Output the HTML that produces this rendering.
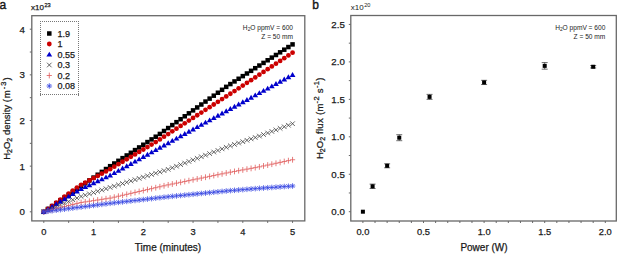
<!DOCTYPE html>
<html><head><meta charset="utf-8"><style>
html,body{margin:0;padding:0;background:#fff;width:617px;height:254px;overflow:hidden}
svg{display:block}
text{font-family:"Liberation Sans",sans-serif}
</style></head><body>
<svg width="617" height="254" viewBox="0 0 617 254">
<rect width="617" height="254" fill="#fff"/>
<rect x="31.8" y="15.7" width="273.0" height="205.20000000000002" fill="none" stroke="#686868" stroke-width="1.3"/>
<line x1="43.80" y1="220.9" x2="43.80" y2="222.9" stroke="#686868" stroke-width="1"/>
<line x1="68.67" y1="220.9" x2="68.67" y2="222.9" stroke="#686868" stroke-width="1"/>
<line x1="93.55" y1="220.9" x2="93.55" y2="222.9" stroke="#686868" stroke-width="1"/>
<line x1="118.42" y1="220.9" x2="118.42" y2="222.9" stroke="#686868" stroke-width="1"/>
<line x1="143.30" y1="220.9" x2="143.30" y2="222.9" stroke="#686868" stroke-width="1"/>
<line x1="168.18" y1="220.9" x2="168.18" y2="222.9" stroke="#686868" stroke-width="1"/>
<line x1="193.05" y1="220.9" x2="193.05" y2="222.9" stroke="#686868" stroke-width="1"/>
<line x1="217.93" y1="220.9" x2="217.93" y2="222.9" stroke="#686868" stroke-width="1"/>
<line x1="242.80" y1="220.9" x2="242.80" y2="222.9" stroke="#686868" stroke-width="1"/>
<line x1="267.68" y1="220.9" x2="267.68" y2="222.9" stroke="#686868" stroke-width="1"/>
<line x1="292.55" y1="220.9" x2="292.55" y2="222.9" stroke="#686868" stroke-width="1"/>
<text x="43.80" y="235.0" font-size="9.3" text-anchor="middle" fill="#1a1a1a" font-family="Liberation Sans, sans-serif" stroke="#1a1a1a" stroke-width="0.25">0</text>
<text x="93.55" y="235.0" font-size="9.3" text-anchor="middle" fill="#1a1a1a" font-family="Liberation Sans, sans-serif" stroke="#1a1a1a" stroke-width="0.25">1</text>
<text x="143.30" y="235.0" font-size="9.3" text-anchor="middle" fill="#1a1a1a" font-family="Liberation Sans, sans-serif" stroke="#1a1a1a" stroke-width="0.25">2</text>
<text x="193.05" y="235.0" font-size="9.3" text-anchor="middle" fill="#1a1a1a" font-family="Liberation Sans, sans-serif" stroke="#1a1a1a" stroke-width="0.25">3</text>
<text x="242.80" y="235.0" font-size="9.3" text-anchor="middle" fill="#1a1a1a" font-family="Liberation Sans, sans-serif" stroke="#1a1a1a" stroke-width="0.25">4</text>
<text x="292.55" y="235.0" font-size="9.3" text-anchor="middle" fill="#1a1a1a" font-family="Liberation Sans, sans-serif" stroke="#1a1a1a" stroke-width="0.25">5</text>
<line x1="29.8" y1="211.80" x2="31.8" y2="211.80" stroke="#686868" stroke-width="1"/>
<line x1="29.8" y1="188.98" x2="31.8" y2="188.98" stroke="#686868" stroke-width="1"/>
<line x1="29.8" y1="166.15" x2="31.8" y2="166.15" stroke="#686868" stroke-width="1"/>
<line x1="29.8" y1="143.33" x2="31.8" y2="143.33" stroke="#686868" stroke-width="1"/>
<line x1="29.8" y1="120.50" x2="31.8" y2="120.50" stroke="#686868" stroke-width="1"/>
<line x1="29.8" y1="97.68" x2="31.8" y2="97.68" stroke="#686868" stroke-width="1"/>
<line x1="29.8" y1="74.85" x2="31.8" y2="74.85" stroke="#686868" stroke-width="1"/>
<line x1="29.8" y1="52.03" x2="31.8" y2="52.03" stroke="#686868" stroke-width="1"/>
<line x1="29.8" y1="29.20" x2="31.8" y2="29.20" stroke="#686868" stroke-width="1"/>
<text x="25" y="215.30" font-size="9.7" text-anchor="end" fill="#1a1a1a" font-family="Liberation Sans, sans-serif" stroke="#1a1a1a" stroke-width="0.25">0</text>
<text x="25" y="169.65" font-size="9.7" text-anchor="end" fill="#1a1a1a" font-family="Liberation Sans, sans-serif" stroke="#1a1a1a" stroke-width="0.25">1</text>
<text x="25" y="124.00" font-size="9.7" text-anchor="end" fill="#1a1a1a" font-family="Liberation Sans, sans-serif" stroke="#1a1a1a" stroke-width="0.25">2</text>
<text x="25" y="78.35" font-size="9.7" text-anchor="end" fill="#1a1a1a" font-family="Liberation Sans, sans-serif" stroke="#1a1a1a" stroke-width="0.25">3</text>
<text x="25" y="32.70" font-size="9.7" text-anchor="end" fill="#1a1a1a" font-family="Liberation Sans, sans-serif" stroke="#1a1a1a" stroke-width="0.25">4</text>
<text x="-0.6" y="8.8" font-size="12" fill="#1a1a1a" font-family="Liberation Sans, sans-serif" stroke="#111" stroke-width="0.4">a</text>
<text x="31" y="10" font-size="8" fill="#1a1a1a" font-family="Liberation Sans, sans-serif" stroke="#1a1a1a" stroke-width="0.25">x10<tspan font-size="5.6" dy="-3.3" dx="0.5">23</tspan></text>
<text x="168" y="250.7" font-size="10" text-anchor="middle" fill="#1a1a1a" font-family="Liberation Sans, sans-serif" stroke="#1a1a1a" stroke-width="0.25">Time (minutes)</text>
<text transform="translate(10.4,159.8) rotate(-90)" font-size="9.5" fill="#1a1a1a" font-family="Liberation Sans, sans-serif" stroke="#1a1a1a" stroke-width="0.25">H<tspan font-size="7" dy="1.8">2</tspan><tspan dy="-1.8">O</tspan><tspan font-size="7" dy="1.8">2</tspan><tspan dy="-1.8"> density </tspan><tspan letter-spacing="1.0">(m</tspan><tspan font-size="7.5" dy="-4.2" letter-spacing="1.0">-3</tspan><tspan dy="4.2">)</tspan></text>
<text x="293" y="29.7" font-size="6.6" text-anchor="end" fill="#1a1a1a" font-family="Liberation Sans, sans-serif">H<tspan font-size="4.8" dy="1.5">2</tspan><tspan dy="-1.5">O ppmV = 600</tspan></text>
<text x="293" y="38.9" font-size="6.6" text-anchor="end" fill="#1a1a1a" font-family="Liberation Sans, sans-serif">Z = 50 mm</text>
<rect x="41.55" y="209.55" width="4.5" height="4.5" fill="#000000"/>
<rect x="45.70" y="206.70" width="4.5" height="4.5" fill="#000000"/>
<rect x="49.84" y="203.85" width="4.5" height="4.5" fill="#000000"/>
<rect x="53.99" y="200.99" width="4.5" height="4.5" fill="#000000"/>
<rect x="58.13" y="198.14" width="4.5" height="4.5" fill="#000000"/>
<rect x="62.28" y="195.29" width="4.5" height="4.5" fill="#000000"/>
<rect x="66.42" y="192.44" width="4.5" height="4.5" fill="#000000"/>
<rect x="70.57" y="189.59" width="4.5" height="4.5" fill="#000000"/>
<rect x="74.72" y="186.74" width="4.5" height="4.5" fill="#000000"/>
<rect x="78.86" y="183.88" width="4.5" height="4.5" fill="#000000"/>
<rect x="83.01" y="181.03" width="4.5" height="4.5" fill="#000000"/>
<rect x="87.15" y="178.18" width="4.5" height="4.5" fill="#000000"/>
<rect x="91.30" y="175.33" width="4.5" height="4.5" fill="#000000"/>
<rect x="95.45" y="172.48" width="4.5" height="4.5" fill="#000000"/>
<rect x="99.59" y="169.63" width="4.5" height="4.5" fill="#000000"/>
<rect x="103.74" y="166.77" width="4.5" height="4.5" fill="#000000"/>
<rect x="107.88" y="163.92" width="4.5" height="4.5" fill="#000000"/>
<rect x="112.03" y="161.24" width="4.5" height="4.5" fill="#000000"/>
<rect x="116.17" y="158.57" width="4.5" height="4.5" fill="#000000"/>
<rect x="120.32" y="155.89" width="4.5" height="4.5" fill="#000000"/>
<rect x="124.47" y="153.21" width="4.5" height="4.5" fill="#000000"/>
<rect x="128.61" y="150.53" width="4.5" height="4.5" fill="#000000"/>
<rect x="132.76" y="147.85" width="4.5" height="4.5" fill="#000000"/>
<rect x="136.90" y="145.18" width="4.5" height="4.5" fill="#000000"/>
<rect x="141.05" y="142.50" width="4.5" height="4.5" fill="#000000"/>
<rect x="145.20" y="139.82" width="4.5" height="4.5" fill="#000000"/>
<rect x="149.34" y="137.14" width="4.5" height="4.5" fill="#000000"/>
<rect x="153.49" y="134.46" width="4.5" height="4.5" fill="#000000"/>
<rect x="157.63" y="131.68" width="4.5" height="4.5" fill="#000000"/>
<rect x="161.78" y="128.74" width="4.5" height="4.5" fill="#000000"/>
<rect x="165.93" y="125.80" width="4.5" height="4.5" fill="#000000"/>
<rect x="170.07" y="122.85" width="4.5" height="4.5" fill="#000000"/>
<rect x="174.22" y="119.91" width="4.5" height="4.5" fill="#000000"/>
<rect x="178.36" y="116.97" width="4.5" height="4.5" fill="#000000"/>
<rect x="182.51" y="114.03" width="4.5" height="4.5" fill="#000000"/>
<rect x="186.65" y="111.09" width="4.5" height="4.5" fill="#000000"/>
<rect x="190.80" y="108.14" width="4.5" height="4.5" fill="#000000"/>
<rect x="194.95" y="105.20" width="4.5" height="4.5" fill="#000000"/>
<rect x="199.09" y="102.26" width="4.5" height="4.5" fill="#000000"/>
<rect x="203.24" y="99.32" width="4.5" height="4.5" fill="#000000"/>
<rect x="207.38" y="96.37" width="4.5" height="4.5" fill="#000000"/>
<rect x="211.53" y="93.43" width="4.5" height="4.5" fill="#000000"/>
<rect x="215.68" y="90.49" width="4.5" height="4.5" fill="#000000"/>
<rect x="219.82" y="87.55" width="4.5" height="4.5" fill="#000000"/>
<rect x="223.97" y="84.60" width="4.5" height="4.5" fill="#000000"/>
<rect x="228.11" y="81.81" width="4.5" height="4.5" fill="#000000"/>
<rect x="232.26" y="79.17" width="4.5" height="4.5" fill="#000000"/>
<rect x="236.40" y="76.52" width="4.5" height="4.5" fill="#000000"/>
<rect x="240.55" y="73.88" width="4.5" height="4.5" fill="#000000"/>
<rect x="244.70" y="71.24" width="4.5" height="4.5" fill="#000000"/>
<rect x="248.84" y="68.59" width="4.5" height="4.5" fill="#000000"/>
<rect x="252.99" y="65.95" width="4.5" height="4.5" fill="#000000"/>
<rect x="257.13" y="63.30" width="4.5" height="4.5" fill="#000000"/>
<rect x="261.28" y="60.66" width="4.5" height="4.5" fill="#000000"/>
<rect x="265.43" y="58.02" width="4.5" height="4.5" fill="#000000"/>
<rect x="269.57" y="55.37" width="4.5" height="4.5" fill="#000000"/>
<rect x="273.72" y="52.73" width="4.5" height="4.5" fill="#000000"/>
<rect x="277.86" y="50.08" width="4.5" height="4.5" fill="#000000"/>
<rect x="282.01" y="47.44" width="4.5" height="4.5" fill="#000000"/>
<rect x="286.15" y="44.80" width="4.5" height="4.5" fill="#000000"/>
<rect x="290.30" y="42.15" width="4.5" height="4.5" fill="#000000"/>
<circle cx="43.80" cy="211.80" r="2.4" fill="#cc0000"/>
<circle cx="47.95" cy="208.79" r="2.4" fill="#cc0000"/>
<circle cx="52.09" cy="205.78" r="2.4" fill="#cc0000"/>
<circle cx="56.24" cy="202.76" r="2.4" fill="#cc0000"/>
<circle cx="60.38" cy="199.75" r="2.4" fill="#cc0000"/>
<circle cx="64.53" cy="196.74" r="2.4" fill="#cc0000"/>
<circle cx="68.67" cy="193.73" r="2.4" fill="#cc0000"/>
<circle cx="72.82" cy="190.72" r="2.4" fill="#cc0000"/>
<circle cx="76.97" cy="187.70" r="2.4" fill="#cc0000"/>
<circle cx="81.11" cy="184.87" r="2.4" fill="#cc0000"/>
<circle cx="85.26" cy="182.63" r="2.4" fill="#cc0000"/>
<circle cx="89.40" cy="180.38" r="2.4" fill="#cc0000"/>
<circle cx="93.55" cy="178.13" r="2.4" fill="#cc0000"/>
<circle cx="97.70" cy="175.88" r="2.4" fill="#cc0000"/>
<circle cx="101.84" cy="173.63" r="2.4" fill="#cc0000"/>
<circle cx="105.99" cy="171.38" r="2.4" fill="#cc0000"/>
<circle cx="110.13" cy="169.14" r="2.4" fill="#cc0000"/>
<circle cx="114.28" cy="166.68" r="2.4" fill="#cc0000"/>
<circle cx="118.42" cy="164.22" r="2.4" fill="#cc0000"/>
<circle cx="122.57" cy="161.77" r="2.4" fill="#cc0000"/>
<circle cx="126.72" cy="159.31" r="2.4" fill="#cc0000"/>
<circle cx="130.86" cy="156.86" r="2.4" fill="#cc0000"/>
<circle cx="135.01" cy="154.40" r="2.4" fill="#cc0000"/>
<circle cx="139.15" cy="151.94" r="2.4" fill="#cc0000"/>
<circle cx="143.30" cy="149.49" r="2.4" fill="#cc0000"/>
<circle cx="147.45" cy="147.03" r="2.4" fill="#cc0000"/>
<circle cx="151.59" cy="144.57" r="2.4" fill="#cc0000"/>
<circle cx="155.74" cy="142.09" r="2.4" fill="#cc0000"/>
<circle cx="159.88" cy="139.40" r="2.4" fill="#cc0000"/>
<circle cx="164.03" cy="136.72" r="2.4" fill="#cc0000"/>
<circle cx="168.18" cy="134.03" r="2.4" fill="#cc0000"/>
<circle cx="172.32" cy="131.35" r="2.4" fill="#cc0000"/>
<circle cx="176.47" cy="128.66" r="2.4" fill="#cc0000"/>
<circle cx="180.61" cy="125.97" r="2.4" fill="#cc0000"/>
<circle cx="184.76" cy="123.29" r="2.4" fill="#cc0000"/>
<circle cx="188.90" cy="120.60" r="2.4" fill="#cc0000"/>
<circle cx="193.05" cy="117.91" r="2.4" fill="#cc0000"/>
<circle cx="197.20" cy="115.23" r="2.4" fill="#cc0000"/>
<circle cx="201.34" cy="112.54" r="2.4" fill="#cc0000"/>
<circle cx="205.49" cy="109.86" r="2.4" fill="#cc0000"/>
<circle cx="209.63" cy="107.17" r="2.4" fill="#cc0000"/>
<circle cx="213.78" cy="104.48" r="2.4" fill="#cc0000"/>
<circle cx="217.93" cy="101.80" r="2.4" fill="#cc0000"/>
<circle cx="222.07" cy="99.11" r="2.4" fill="#cc0000"/>
<circle cx="226.22" cy="96.43" r="2.4" fill="#cc0000"/>
<circle cx="230.36" cy="93.74" r="2.4" fill="#cc0000"/>
<circle cx="234.51" cy="91.05" r="2.4" fill="#cc0000"/>
<circle cx="238.65" cy="88.35" r="2.4" fill="#cc0000"/>
<circle cx="242.80" cy="85.61" r="2.4" fill="#cc0000"/>
<circle cx="246.95" cy="82.87" r="2.4" fill="#cc0000"/>
<circle cx="251.09" cy="80.13" r="2.4" fill="#cc0000"/>
<circle cx="255.24" cy="77.39" r="2.4" fill="#cc0000"/>
<circle cx="259.38" cy="74.64" r="2.4" fill="#cc0000"/>
<circle cx="263.53" cy="71.90" r="2.4" fill="#cc0000"/>
<circle cx="267.68" cy="69.16" r="2.4" fill="#cc0000"/>
<circle cx="271.82" cy="66.42" r="2.4" fill="#cc0000"/>
<circle cx="275.97" cy="63.68" r="2.4" fill="#cc0000"/>
<circle cx="280.11" cy="60.94" r="2.4" fill="#cc0000"/>
<circle cx="284.26" cy="58.19" r="2.4" fill="#cc0000"/>
<circle cx="288.40" cy="55.45" r="2.4" fill="#cc0000"/>
<circle cx="292.55" cy="52.71" r="2.4" fill="#cc0000"/>
<path d="M43.80 209.00L46.70 213.90L40.90 213.90Z" fill="#0000cc"/>
<path d="M47.95 206.45L50.85 211.35L45.05 211.35Z" fill="#0000cc"/>
<path d="M52.09 203.89L54.99 208.79L49.19 208.79Z" fill="#0000cc"/>
<path d="M56.24 201.34L59.14 206.24L53.34 206.24Z" fill="#0000cc"/>
<path d="M60.38 198.79L63.28 203.69L57.48 203.69Z" fill="#0000cc"/>
<path d="M64.53 196.23L67.43 201.13L61.63 201.13Z" fill="#0000cc"/>
<path d="M68.67 193.68L71.58 198.58L65.77 198.58Z" fill="#0000cc"/>
<path d="M72.82 191.13L75.72 196.03L69.92 196.03Z" fill="#0000cc"/>
<path d="M76.97 188.57L79.87 193.47L74.07 193.47Z" fill="#0000cc"/>
<path d="M81.11 186.16L84.01 191.06L78.21 191.06Z" fill="#0000cc"/>
<path d="M85.26 184.21L88.16 189.11L82.36 189.11Z" fill="#0000cc"/>
<path d="M89.40 182.26L92.30 187.16L86.50 187.16Z" fill="#0000cc"/>
<path d="M93.55 180.31L96.45 185.21L90.65 185.21Z" fill="#0000cc"/>
<path d="M97.70 178.35L100.60 183.25L94.80 183.25Z" fill="#0000cc"/>
<path d="M101.84 176.40L104.74 181.30L98.94 181.30Z" fill="#0000cc"/>
<path d="M105.99 174.45L108.89 179.35L103.09 179.35Z" fill="#0000cc"/>
<path d="M110.13 172.50L113.03 177.40L107.23 177.40Z" fill="#0000cc"/>
<path d="M114.28 170.20L117.18 175.10L111.38 175.10Z" fill="#0000cc"/>
<path d="M118.42 167.89L121.33 172.79L115.52 172.79Z" fill="#0000cc"/>
<path d="M122.57 165.59L125.47 170.49L119.67 170.49Z" fill="#0000cc"/>
<path d="M126.72 163.29L129.62 168.19L123.82 168.19Z" fill="#0000cc"/>
<path d="M130.86 160.99L133.76 165.89L127.96 165.89Z" fill="#0000cc"/>
<path d="M135.01 158.68L137.91 163.58L132.11 163.58Z" fill="#0000cc"/>
<path d="M139.15 156.38L142.05 161.28L136.25 161.28Z" fill="#0000cc"/>
<path d="M143.30 154.08L146.20 158.98L140.40 158.98Z" fill="#0000cc"/>
<path d="M147.45 151.77L150.35 156.67L144.55 156.67Z" fill="#0000cc"/>
<path d="M151.59 149.47L154.49 154.37L148.69 154.37Z" fill="#0000cc"/>
<path d="M155.74 147.17L158.64 152.07L152.84 152.07Z" fill="#0000cc"/>
<path d="M159.88 144.87L162.78 149.77L156.98 149.77Z" fill="#0000cc"/>
<path d="M164.03 142.56L166.93 147.46L161.13 147.46Z" fill="#0000cc"/>
<path d="M168.18 140.26L171.08 145.16L165.28 145.16Z" fill="#0000cc"/>
<path d="M172.32 137.96L175.22 142.86L169.42 142.86Z" fill="#0000cc"/>
<path d="M176.47 135.66L179.37 140.56L173.57 140.56Z" fill="#0000cc"/>
<path d="M180.61 133.35L183.51 138.25L177.71 138.25Z" fill="#0000cc"/>
<path d="M184.76 131.05L187.66 135.95L181.86 135.95Z" fill="#0000cc"/>
<path d="M188.90 128.75L191.80 133.65L186.00 133.65Z" fill="#0000cc"/>
<path d="M193.05 126.48L195.95 131.38L190.15 131.38Z" fill="#0000cc"/>
<path d="M197.20 124.21L200.10 129.11L194.30 129.11Z" fill="#0000cc"/>
<path d="M201.34 121.94L204.24 126.84L198.44 126.84Z" fill="#0000cc"/>
<path d="M205.49 119.68L208.39 124.58L202.59 124.58Z" fill="#0000cc"/>
<path d="M209.63 117.41L212.53 122.31L206.73 122.31Z" fill="#0000cc"/>
<path d="M213.78 115.14L216.68 120.04L210.88 120.04Z" fill="#0000cc"/>
<path d="M217.93 112.87L220.83 117.77L215.03 117.77Z" fill="#0000cc"/>
<path d="M222.07 110.60L224.97 115.50L219.17 115.50Z" fill="#0000cc"/>
<path d="M226.22 108.34L229.12 113.24L223.32 113.24Z" fill="#0000cc"/>
<path d="M230.36 106.07L233.26 110.97L227.46 110.97Z" fill="#0000cc"/>
<path d="M234.51 103.80L237.41 108.70L231.61 108.70Z" fill="#0000cc"/>
<path d="M238.65 101.53L241.55 106.43L235.75 106.43Z" fill="#0000cc"/>
<path d="M242.80 99.26L245.70 104.16L239.90 104.16Z" fill="#0000cc"/>
<path d="M246.95 97.00L249.85 101.90L244.05 101.90Z" fill="#0000cc"/>
<path d="M251.09 94.73L253.99 99.63L248.19 99.63Z" fill="#0000cc"/>
<path d="M255.24 92.46L258.14 97.36L252.34 97.36Z" fill="#0000cc"/>
<path d="M259.38 90.19L262.28 95.09L256.48 95.09Z" fill="#0000cc"/>
<path d="M263.53 87.93L266.43 92.83L260.63 92.83Z" fill="#0000cc"/>
<path d="M267.68 85.66L270.57 90.56L264.78 90.56Z" fill="#0000cc"/>
<path d="M271.82 83.39L274.72 88.29L268.92 88.29Z" fill="#0000cc"/>
<path d="M275.97 81.12L278.87 86.02L273.07 86.02Z" fill="#0000cc"/>
<path d="M280.11 78.85L283.01 83.75L277.21 83.75Z" fill="#0000cc"/>
<path d="M284.26 76.59L287.16 81.49L281.36 81.49Z" fill="#0000cc"/>
<path d="M288.40 74.32L291.30 79.22L285.50 79.22Z" fill="#0000cc"/>
<path d="M292.55 72.05L295.45 76.95L289.65 76.95Z" fill="#0000cc"/>
<path d="M41.50 209.50L46.10 214.10M46.10 209.50L41.50 214.10" stroke="#333333" stroke-width="0.75" fill="none"/>
<path d="M45.65 207.78L50.25 212.38M50.25 207.78L45.65 212.38" stroke="#333333" stroke-width="0.75" fill="none"/>
<path d="M49.79 206.06L54.39 210.66M54.39 206.06L49.79 210.66" stroke="#333333" stroke-width="0.75" fill="none"/>
<path d="M53.94 204.34L58.54 208.94M58.54 204.34L53.94 208.94" stroke="#333333" stroke-width="0.75" fill="none"/>
<path d="M58.08 202.62L62.68 207.22M62.68 202.62L58.08 207.22" stroke="#333333" stroke-width="0.75" fill="none"/>
<path d="M62.23 200.90L66.83 205.50M66.83 200.90L62.23 205.50" stroke="#333333" stroke-width="0.75" fill="none"/>
<path d="M66.38 199.18L70.97 203.78M70.97 199.18L66.38 203.78" stroke="#333333" stroke-width="0.75" fill="none"/>
<path d="M70.52 197.46L75.12 202.06M75.12 197.46L70.52 202.06" stroke="#333333" stroke-width="0.75" fill="none"/>
<path d="M74.67 195.74L79.27 200.34M79.27 195.74L74.67 200.34" stroke="#333333" stroke-width="0.75" fill="none"/>
<path d="M78.81 194.13L83.41 198.73M83.41 194.13L78.81 198.73" stroke="#333333" stroke-width="0.75" fill="none"/>
<path d="M82.96 192.84L87.56 197.44M87.56 192.84L82.96 197.44" stroke="#333333" stroke-width="0.75" fill="none"/>
<path d="M87.10 191.56L91.70 196.16M91.70 191.56L87.10 196.16" stroke="#333333" stroke-width="0.75" fill="none"/>
<path d="M91.25 190.27L95.85 194.87M95.85 190.27L91.25 194.87" stroke="#333333" stroke-width="0.75" fill="none"/>
<path d="M95.40 188.99L100.00 193.59M100.00 188.99L95.40 193.59" stroke="#333333" stroke-width="0.75" fill="none"/>
<path d="M99.54 187.70L104.14 192.30M104.14 187.70L99.54 192.30" stroke="#333333" stroke-width="0.75" fill="none"/>
<path d="M103.69 186.42L108.29 191.02M108.29 186.42L103.69 191.02" stroke="#333333" stroke-width="0.75" fill="none"/>
<path d="M107.83 185.13L112.43 189.73M112.43 185.13L107.83 189.73" stroke="#333333" stroke-width="0.75" fill="none"/>
<path d="M111.98 183.84L116.58 188.44M116.58 183.84L111.98 188.44" stroke="#333333" stroke-width="0.75" fill="none"/>
<path d="M116.12 182.55L120.72 187.15M120.72 182.55L116.12 187.15" stroke="#333333" stroke-width="0.75" fill="none"/>
<path d="M120.27 181.26L124.87 185.86M124.87 181.26L120.27 185.86" stroke="#333333" stroke-width="0.75" fill="none"/>
<path d="M124.42 179.97L129.02 184.57M129.02 179.97L124.42 184.57" stroke="#333333" stroke-width="0.75" fill="none"/>
<path d="M128.56 178.67L133.16 183.27M133.16 178.67L128.56 183.27" stroke="#333333" stroke-width="0.75" fill="none"/>
<path d="M132.71 177.38L137.31 181.98M137.31 177.38L132.71 181.98" stroke="#333333" stroke-width="0.75" fill="none"/>
<path d="M136.85 176.09L141.45 180.69M141.45 176.09L136.85 180.69" stroke="#333333" stroke-width="0.75" fill="none"/>
<path d="M141.00 174.80L145.60 179.40M145.60 174.80L141.00 179.40" stroke="#333333" stroke-width="0.75" fill="none"/>
<path d="M145.15 173.51L149.75 178.11M149.75 173.51L145.15 178.11" stroke="#333333" stroke-width="0.75" fill="none"/>
<path d="M149.29 172.21L153.89 176.81M153.89 172.21L149.29 176.81" stroke="#333333" stroke-width="0.75" fill="none"/>
<path d="M153.44 170.92L158.04 175.52M158.04 170.92L153.44 175.52" stroke="#333333" stroke-width="0.75" fill="none"/>
<path d="M157.58 169.63L162.18 174.23M162.18 169.63L157.58 174.23" stroke="#333333" stroke-width="0.75" fill="none"/>
<path d="M161.73 168.34L166.33 172.94M166.33 168.34L161.73 172.94" stroke="#333333" stroke-width="0.75" fill="none"/>
<path d="M165.88 167.05L170.48 171.65M170.48 167.05L165.88 171.65" stroke="#333333" stroke-width="0.75" fill="none"/>
<path d="M170.02 165.47L174.62 170.07M174.62 165.47L170.02 170.07" stroke="#333333" stroke-width="0.75" fill="none"/>
<path d="M174.17 163.90L178.77 168.50M178.77 163.90L174.17 168.50" stroke="#333333" stroke-width="0.75" fill="none"/>
<path d="M178.31 162.32L182.91 166.92M182.91 162.32L178.31 166.92" stroke="#333333" stroke-width="0.75" fill="none"/>
<path d="M182.46 160.75L187.06 165.35M187.06 160.75L182.46 165.35" stroke="#333333" stroke-width="0.75" fill="none"/>
<path d="M186.60 159.17L191.20 163.77M191.20 159.17L186.60 163.77" stroke="#333333" stroke-width="0.75" fill="none"/>
<path d="M190.75 157.60L195.35 162.20M195.35 157.60L190.75 162.20" stroke="#333333" stroke-width="0.75" fill="none"/>
<path d="M194.90 156.02L199.50 160.62M199.50 156.02L194.90 160.62" stroke="#333333" stroke-width="0.75" fill="none"/>
<path d="M199.04 154.45L203.64 159.05M203.64 154.45L199.04 159.05" stroke="#333333" stroke-width="0.75" fill="none"/>
<path d="M203.19 152.87L207.79 157.47M207.79 152.87L203.19 157.47" stroke="#333333" stroke-width="0.75" fill="none"/>
<path d="M207.33 151.30L211.93 155.90M211.93 151.30L207.33 155.90" stroke="#333333" stroke-width="0.75" fill="none"/>
<path d="M211.48 149.73L216.08 154.33M216.08 149.73L211.48 154.33" stroke="#333333" stroke-width="0.75" fill="none"/>
<path d="M215.62 148.15L220.23 152.75M220.23 148.15L215.62 152.75" stroke="#333333" stroke-width="0.75" fill="none"/>
<path d="M219.77 146.58L224.37 151.18M224.37 146.58L219.77 151.18" stroke="#333333" stroke-width="0.75" fill="none"/>
<path d="M223.92 145.00L228.52 149.60M228.52 145.00L223.92 149.60" stroke="#333333" stroke-width="0.75" fill="none"/>
<path d="M228.06 143.52L232.66 148.12M232.66 143.52L228.06 148.12" stroke="#333333" stroke-width="0.75" fill="none"/>
<path d="M232.21 142.14L236.81 146.74M236.81 142.14L232.21 146.74" stroke="#333333" stroke-width="0.75" fill="none"/>
<path d="M236.35 140.75L240.95 145.35M240.95 140.75L236.35 145.35" stroke="#333333" stroke-width="0.75" fill="none"/>
<path d="M240.50 139.37L245.10 143.97M245.10 139.37L240.50 143.97" stroke="#333333" stroke-width="0.75" fill="none"/>
<path d="M244.65 137.98L249.25 142.58M249.25 137.98L244.65 142.58" stroke="#333333" stroke-width="0.75" fill="none"/>
<path d="M248.79 136.59L253.39 141.19M253.39 136.59L248.79 141.19" stroke="#333333" stroke-width="0.75" fill="none"/>
<path d="M252.94 135.21L257.54 139.81M257.54 135.21L252.94 139.81" stroke="#333333" stroke-width="0.75" fill="none"/>
<path d="M257.08 133.78L261.68 138.38M261.68 133.78L257.08 138.38" stroke="#333333" stroke-width="0.75" fill="none"/>
<path d="M261.23 132.23L265.83 136.83M265.83 132.23L261.23 136.83" stroke="#333333" stroke-width="0.75" fill="none"/>
<path d="M265.38 130.68L269.98 135.28M269.98 130.68L265.38 135.28" stroke="#333333" stroke-width="0.75" fill="none"/>
<path d="M269.52 129.14L274.12 133.74M274.12 129.14L269.52 133.74" stroke="#333333" stroke-width="0.75" fill="none"/>
<path d="M273.67 127.59L278.27 132.19M278.27 127.59L273.67 132.19" stroke="#333333" stroke-width="0.75" fill="none"/>
<path d="M277.81 126.04L282.41 130.64M282.41 126.04L277.81 130.64" stroke="#333333" stroke-width="0.75" fill="none"/>
<path d="M281.96 124.49L286.56 129.09M286.56 124.49L281.96 129.09" stroke="#333333" stroke-width="0.75" fill="none"/>
<path d="M286.10 122.94L290.70 127.54M290.70 122.94L286.10 127.54" stroke="#333333" stroke-width="0.75" fill="none"/>
<path d="M290.25 121.40L294.85 126.00M294.85 121.40L290.25 126.00" stroke="#333333" stroke-width="0.75" fill="none"/>
<path d="M41.20 211.80H46.40M43.80 208.90V214.70" stroke="#e05a5a" stroke-width="0.8" fill="none"/>
<path d="M45.35 210.76H50.55M47.95 207.86V213.66" stroke="#e05a5a" stroke-width="0.8" fill="none"/>
<path d="M49.49 209.72H54.69M52.09 206.82V212.62" stroke="#e05a5a" stroke-width="0.8" fill="none"/>
<path d="M53.64 208.67H58.84M56.24 205.77V211.57" stroke="#e05a5a" stroke-width="0.8" fill="none"/>
<path d="M57.78 207.63H62.98M60.38 204.73V210.53" stroke="#e05a5a" stroke-width="0.8" fill="none"/>
<path d="M61.93 206.59H67.13M64.53 203.69V209.49" stroke="#e05a5a" stroke-width="0.8" fill="none"/>
<path d="M66.08 205.55H71.27M68.67 202.65V208.45" stroke="#e05a5a" stroke-width="0.8" fill="none"/>
<path d="M70.22 204.50H75.42M72.82 201.60V207.40" stroke="#e05a5a" stroke-width="0.8" fill="none"/>
<path d="M74.37 203.46H79.57M76.97 200.56V206.36" stroke="#e05a5a" stroke-width="0.8" fill="none"/>
<path d="M78.51 202.52H83.71M81.11 199.62V205.42" stroke="#e05a5a" stroke-width="0.8" fill="none"/>
<path d="M82.66 201.89H87.86M85.26 198.99V204.79" stroke="#e05a5a" stroke-width="0.8" fill="none"/>
<path d="M86.80 201.26H92.00M89.40 198.36V204.16" stroke="#e05a5a" stroke-width="0.8" fill="none"/>
<path d="M90.95 200.63H96.15M93.55 197.73V203.53" stroke="#e05a5a" stroke-width="0.8" fill="none"/>
<path d="M95.10 200.00H100.30M97.70 197.10V202.90" stroke="#e05a5a" stroke-width="0.8" fill="none"/>
<path d="M99.24 199.37H104.44M101.84 196.47V202.27" stroke="#e05a5a" stroke-width="0.8" fill="none"/>
<path d="M103.39 198.74H108.59M105.99 195.84V201.64" stroke="#e05a5a" stroke-width="0.8" fill="none"/>
<path d="M107.53 198.11H112.73M110.13 195.21V201.01" stroke="#e05a5a" stroke-width="0.8" fill="none"/>
<path d="M111.68 197.17H116.88M114.28 194.27V200.07" stroke="#e05a5a" stroke-width="0.8" fill="none"/>
<path d="M115.83 196.22H121.02M118.42 193.32V199.12" stroke="#e05a5a" stroke-width="0.8" fill="none"/>
<path d="M119.97 195.27H125.17M122.57 192.37V198.17" stroke="#e05a5a" stroke-width="0.8" fill="none"/>
<path d="M124.12 194.33H129.32M126.72 191.43V197.23" stroke="#e05a5a" stroke-width="0.8" fill="none"/>
<path d="M128.26 193.38H133.46M130.86 190.48V196.28" stroke="#e05a5a" stroke-width="0.8" fill="none"/>
<path d="M132.41 192.44H137.61M135.01 189.54V195.34" stroke="#e05a5a" stroke-width="0.8" fill="none"/>
<path d="M136.55 191.49H141.75M139.15 188.59V194.39" stroke="#e05a5a" stroke-width="0.8" fill="none"/>
<path d="M140.70 190.54H145.90M143.30 187.64V193.44" stroke="#e05a5a" stroke-width="0.8" fill="none"/>
<path d="M144.85 189.60H150.05M147.45 186.70V192.50" stroke="#e05a5a" stroke-width="0.8" fill="none"/>
<path d="M148.99 188.65H154.19M151.59 185.75V191.55" stroke="#e05a5a" stroke-width="0.8" fill="none"/>
<path d="M153.14 187.70H158.34M155.74 184.80V190.60" stroke="#e05a5a" stroke-width="0.8" fill="none"/>
<path d="M157.28 186.76H162.48M159.88 183.86V189.66" stroke="#e05a5a" stroke-width="0.8" fill="none"/>
<path d="M161.43 185.81H166.63M164.03 182.91V188.71" stroke="#e05a5a" stroke-width="0.8" fill="none"/>
<path d="M165.58 184.87H170.78M168.18 181.97V187.77" stroke="#e05a5a" stroke-width="0.8" fill="none"/>
<path d="M169.72 184.02H174.92M172.32 181.12V186.92" stroke="#e05a5a" stroke-width="0.8" fill="none"/>
<path d="M173.87 183.17H179.07M176.47 180.27V186.07" stroke="#e05a5a" stroke-width="0.8" fill="none"/>
<path d="M178.01 182.33H183.21M180.61 179.43V185.23" stroke="#e05a5a" stroke-width="0.8" fill="none"/>
<path d="M182.16 181.48H187.36M184.76 178.58V184.38" stroke="#e05a5a" stroke-width="0.8" fill="none"/>
<path d="M186.30 180.63H191.50M188.90 177.73V183.53" stroke="#e05a5a" stroke-width="0.8" fill="none"/>
<path d="M190.45 179.78H195.65M193.05 176.88V182.68" stroke="#e05a5a" stroke-width="0.8" fill="none"/>
<path d="M194.60 178.94H199.80M197.20 176.04V181.84" stroke="#e05a5a" stroke-width="0.8" fill="none"/>
<path d="M198.74 178.09H203.94M201.34 175.19V180.99" stroke="#e05a5a" stroke-width="0.8" fill="none"/>
<path d="M202.89 177.24H208.09M205.49 174.34V180.14" stroke="#e05a5a" stroke-width="0.8" fill="none"/>
<path d="M207.03 176.40H212.23M209.63 173.50V179.30" stroke="#e05a5a" stroke-width="0.8" fill="none"/>
<path d="M211.18 175.55H216.38M213.78 172.65V178.45" stroke="#e05a5a" stroke-width="0.8" fill="none"/>
<path d="M215.33 174.70H220.53M217.93 171.80V177.60" stroke="#e05a5a" stroke-width="0.8" fill="none"/>
<path d="M219.47 173.85H224.67M222.07 170.95V176.75" stroke="#e05a5a" stroke-width="0.8" fill="none"/>
<path d="M223.62 173.01H228.82M226.22 170.11V175.91" stroke="#e05a5a" stroke-width="0.8" fill="none"/>
<path d="M227.76 172.20H232.96M230.36 169.30V175.10" stroke="#e05a5a" stroke-width="0.8" fill="none"/>
<path d="M231.91 171.44H237.11M234.51 168.54V174.34" stroke="#e05a5a" stroke-width="0.8" fill="none"/>
<path d="M236.05 170.68H241.25M238.65 167.78V173.58" stroke="#e05a5a" stroke-width="0.8" fill="none"/>
<path d="M240.20 169.92H245.40M242.80 167.02V172.82" stroke="#e05a5a" stroke-width="0.8" fill="none"/>
<path d="M244.35 169.15H249.55M246.95 166.25V172.05" stroke="#e05a5a" stroke-width="0.8" fill="none"/>
<path d="M248.49 168.39H253.69M251.09 165.49V171.29" stroke="#e05a5a" stroke-width="0.8" fill="none"/>
<path d="M252.64 167.63H257.84M255.24 164.73V170.53" stroke="#e05a5a" stroke-width="0.8" fill="none"/>
<path d="M256.78 166.84H261.98M259.38 163.94V169.74" stroke="#e05a5a" stroke-width="0.8" fill="none"/>
<path d="M260.93 165.95H266.13M263.53 163.05V168.85" stroke="#e05a5a" stroke-width="0.8" fill="none"/>
<path d="M265.07 165.07H270.28M267.68 162.17V167.97" stroke="#e05a5a" stroke-width="0.8" fill="none"/>
<path d="M269.22 164.18H274.42M271.82 161.28V167.08" stroke="#e05a5a" stroke-width="0.8" fill="none"/>
<path d="M273.37 163.30H278.57M275.97 160.40V166.20" stroke="#e05a5a" stroke-width="0.8" fill="none"/>
<path d="M277.51 162.41H282.71M280.11 159.51V165.31" stroke="#e05a5a" stroke-width="0.8" fill="none"/>
<path d="M281.66 161.53H286.86M284.26 158.63V164.43" stroke="#e05a5a" stroke-width="0.8" fill="none"/>
<path d="M285.80 160.64H291.00M288.40 157.74V163.54" stroke="#e05a5a" stroke-width="0.8" fill="none"/>
<path d="M289.95 159.76H295.15M292.55 156.86V162.66" stroke="#e05a5a" stroke-width="0.8" fill="none"/>
<path d="M41.00 211.80H46.60M43.80 209.00V214.60M41.80 209.80L45.80 213.80M45.80 209.80L41.80 213.80" stroke="#3040e0" stroke-width="0.75" fill="none"/>
<path d="M45.15 211.27H50.75M47.95 208.47V214.07M45.95 209.27L49.95 213.27M49.95 209.27L45.95 213.27" stroke="#3040e0" stroke-width="0.75" fill="none"/>
<path d="M49.29 210.74H54.89M52.09 207.94V213.54M50.09 208.74L54.09 212.74M54.09 208.74L50.09 212.74" stroke="#3040e0" stroke-width="0.75" fill="none"/>
<path d="M53.44 210.21H59.04M56.24 207.41V213.01M54.24 208.21L58.24 212.21M58.24 208.21L54.24 212.21" stroke="#3040e0" stroke-width="0.75" fill="none"/>
<path d="M57.58 209.68H63.18M60.38 206.88V212.48M58.38 207.68L62.38 211.68M62.38 207.68L58.38 211.68" stroke="#3040e0" stroke-width="0.75" fill="none"/>
<path d="M61.73 209.15H67.33M64.53 206.35V211.95M62.53 207.15L66.53 211.15M66.53 207.15L62.53 211.15" stroke="#3040e0" stroke-width="0.75" fill="none"/>
<path d="M65.88 208.62H71.47M68.67 205.82V211.42M66.67 206.62L70.67 210.62M70.67 206.62L66.67 210.62" stroke="#3040e0" stroke-width="0.75" fill="none"/>
<path d="M70.02 208.09H75.62M72.82 205.29V210.89M70.82 206.09L74.82 210.09M74.82 206.09L70.82 210.09" stroke="#3040e0" stroke-width="0.75" fill="none"/>
<path d="M74.17 207.56H79.77M76.97 204.76V210.36M74.97 205.56L78.97 209.56M78.97 205.56L74.97 209.56" stroke="#3040e0" stroke-width="0.75" fill="none"/>
<path d="M78.31 207.03H83.91M81.11 204.23V209.83M79.11 205.03L83.11 209.03M83.11 205.03L79.11 209.03" stroke="#3040e0" stroke-width="0.75" fill="none"/>
<path d="M82.46 206.50H88.06M85.26 203.70V209.30M83.26 204.50L87.26 208.50M87.26 204.50L83.26 208.50" stroke="#3040e0" stroke-width="0.75" fill="none"/>
<path d="M86.60 205.97H92.20M89.40 203.17V208.77M87.40 203.97L91.40 207.97M91.40 203.97L87.40 207.97" stroke="#3040e0" stroke-width="0.75" fill="none"/>
<path d="M90.75 205.44H96.35M93.55 202.64V208.24M91.55 203.44L95.55 207.44M95.55 203.44L91.55 207.44" stroke="#3040e0" stroke-width="0.75" fill="none"/>
<path d="M94.90 204.90H100.50M97.70 202.10V207.70M95.70 202.90L99.70 206.90M99.70 202.90L95.70 206.90" stroke="#3040e0" stroke-width="0.75" fill="none"/>
<path d="M99.04 204.37H104.64M101.84 201.57V207.17M99.84 202.37L103.84 206.37M103.84 202.37L99.84 206.37" stroke="#3040e0" stroke-width="0.75" fill="none"/>
<path d="M103.19 203.84H108.79M105.99 201.04V206.64M103.99 201.84L107.99 205.84M107.99 201.84L103.99 205.84" stroke="#3040e0" stroke-width="0.75" fill="none"/>
<path d="M107.33 203.31H112.93M110.13 200.51V206.11M108.13 201.31L112.13 205.31M112.13 201.31L108.13 205.31" stroke="#3040e0" stroke-width="0.75" fill="none"/>
<path d="M111.48 202.84H117.08M114.28 200.04V205.64M112.28 200.84L116.28 204.84M116.28 200.84L112.28 204.84" stroke="#3040e0" stroke-width="0.75" fill="none"/>
<path d="M115.62 202.37H121.22M118.42 199.57V205.17M116.42 200.37L120.42 204.37M120.42 200.37L116.42 204.37" stroke="#3040e0" stroke-width="0.75" fill="none"/>
<path d="M119.77 201.90H125.37M122.57 199.10V204.70M120.57 199.90L124.57 203.90M124.57 199.90L120.57 203.90" stroke="#3040e0" stroke-width="0.75" fill="none"/>
<path d="M123.92 201.43H129.52M126.72 198.63V204.23M124.72 199.43L128.72 203.43M128.72 199.43L124.72 203.43" stroke="#3040e0" stroke-width="0.75" fill="none"/>
<path d="M128.06 200.96H133.66M130.86 198.16V203.76M128.86 198.96L132.86 202.96M132.86 198.96L128.86 202.96" stroke="#3040e0" stroke-width="0.75" fill="none"/>
<path d="M132.21 200.49H137.81M135.01 197.69V203.29M133.01 198.49L137.01 202.49M137.01 198.49L133.01 202.49" stroke="#3040e0" stroke-width="0.75" fill="none"/>
<path d="M136.35 200.02H141.95M139.15 197.22V202.82M137.15 198.02L141.15 202.02M141.15 198.02L137.15 202.02" stroke="#3040e0" stroke-width="0.75" fill="none"/>
<path d="M140.50 199.55H146.10M143.30 196.75V202.35M141.30 197.55L145.30 201.55M145.30 197.55L141.30 201.55" stroke="#3040e0" stroke-width="0.75" fill="none"/>
<path d="M144.65 199.08H150.25M147.45 196.28V201.88M145.45 197.08L149.45 201.08M149.45 197.08L145.45 201.08" stroke="#3040e0" stroke-width="0.75" fill="none"/>
<path d="M148.79 198.61H154.39M151.59 195.81V201.41M149.59 196.61L153.59 200.61M153.59 196.61L149.59 200.61" stroke="#3040e0" stroke-width="0.75" fill="none"/>
<path d="M152.94 198.14H158.54M155.74 195.34V200.94M153.74 196.14L157.74 200.14M157.74 196.14L153.74 200.14" stroke="#3040e0" stroke-width="0.75" fill="none"/>
<path d="M157.08 197.68H162.68M159.88 194.88V200.48M157.88 195.68L161.88 199.68M161.88 195.68L157.88 199.68" stroke="#3040e0" stroke-width="0.75" fill="none"/>
<path d="M161.23 197.21H166.83M164.03 194.41V200.01M162.03 195.21L166.03 199.21M166.03 195.21L162.03 199.21" stroke="#3040e0" stroke-width="0.75" fill="none"/>
<path d="M165.38 196.74H170.98M168.18 193.94V199.54M166.18 194.74L170.18 198.74M170.18 194.74L166.18 198.74" stroke="#3040e0" stroke-width="0.75" fill="none"/>
<path d="M169.52 196.33H175.12M172.32 193.53V199.13M170.32 194.33L174.32 198.33M174.32 194.33L170.32 198.33" stroke="#3040e0" stroke-width="0.75" fill="none"/>
<path d="M173.67 195.92H179.27M176.47 193.12V198.72M174.47 193.92L178.47 197.92M178.47 193.92L174.47 197.92" stroke="#3040e0" stroke-width="0.75" fill="none"/>
<path d="M177.81 195.51H183.41M180.61 192.71V198.31M178.61 193.51L182.61 197.51M182.61 193.51L178.61 197.51" stroke="#3040e0" stroke-width="0.75" fill="none"/>
<path d="M181.96 195.10H187.56M184.76 192.30V197.90M182.76 193.10L186.76 197.10M186.76 193.10L182.76 197.10" stroke="#3040e0" stroke-width="0.75" fill="none"/>
<path d="M186.10 194.69H191.70M188.90 191.89V197.49M186.90 192.69L190.90 196.69M190.90 192.69L186.90 196.69" stroke="#3040e0" stroke-width="0.75" fill="none"/>
<path d="M190.25 194.28H195.85M193.05 191.48V197.08M191.05 192.28L195.05 196.28M195.05 192.28L191.05 196.28" stroke="#3040e0" stroke-width="0.75" fill="none"/>
<path d="M194.40 193.87H200.00M197.20 191.07V196.67M195.20 191.87L199.20 195.87M199.20 191.87L195.20 195.87" stroke="#3040e0" stroke-width="0.75" fill="none"/>
<path d="M198.54 193.46H204.14M201.34 190.66V196.26M199.34 191.46L203.34 195.46M203.34 191.46L199.34 195.46" stroke="#3040e0" stroke-width="0.75" fill="none"/>
<path d="M202.69 193.05H208.29M205.49 190.25V195.85M203.49 191.05L207.49 195.05M207.49 191.05L203.49 195.05" stroke="#3040e0" stroke-width="0.75" fill="none"/>
<path d="M206.83 192.64H212.43M209.63 189.84V195.44M207.63 190.64L211.63 194.64M211.63 190.64L207.63 194.64" stroke="#3040e0" stroke-width="0.75" fill="none"/>
<path d="M210.98 192.23H216.58M213.78 189.43V195.03M211.78 190.23L215.78 194.23M215.78 190.23L211.78 194.23" stroke="#3040e0" stroke-width="0.75" fill="none"/>
<path d="M215.12 191.82H220.73M217.93 189.02V194.62M215.93 189.82L219.93 193.82M219.93 189.82L215.93 193.82" stroke="#3040e0" stroke-width="0.75" fill="none"/>
<path d="M219.27 191.41H224.87M222.07 188.61V194.21M220.07 189.41L224.07 193.41M224.07 189.41L220.07 193.41" stroke="#3040e0" stroke-width="0.75" fill="none"/>
<path d="M223.42 191.00H229.02M226.22 188.20V193.80M224.22 189.00L228.22 193.00M228.22 189.00L224.22 193.00" stroke="#3040e0" stroke-width="0.75" fill="none"/>
<path d="M227.56 190.63H233.16M230.36 187.83V193.43M228.36 188.63L232.36 192.63M232.36 188.63L228.36 192.63" stroke="#3040e0" stroke-width="0.75" fill="none"/>
<path d="M231.71 190.30H237.31M234.51 187.50V193.10M232.51 188.30L236.51 192.30M236.51 188.30L232.51 192.30" stroke="#3040e0" stroke-width="0.75" fill="none"/>
<path d="M235.85 189.97H241.45M238.65 187.17V192.77M236.65 187.97L240.65 191.97M240.65 187.97L236.65 191.97" stroke="#3040e0" stroke-width="0.75" fill="none"/>
<path d="M240.00 189.63H245.60M242.80 186.83V192.43M240.80 187.63L244.80 191.63M244.80 187.63L240.80 191.63" stroke="#3040e0" stroke-width="0.75" fill="none"/>
<path d="M244.15 189.30H249.75M246.95 186.50V192.10M244.95 187.30L248.95 191.30M248.95 187.30L244.95 191.30" stroke="#3040e0" stroke-width="0.75" fill="none"/>
<path d="M248.29 188.96H253.89M251.09 186.16V191.76M249.09 186.96L253.09 190.96M253.09 186.96L249.09 190.96" stroke="#3040e0" stroke-width="0.75" fill="none"/>
<path d="M252.44 188.63H258.04M255.24 185.83V191.43M253.24 186.63L257.24 190.63M257.24 186.63L253.24 190.63" stroke="#3040e0" stroke-width="0.75" fill="none"/>
<path d="M256.58 188.31H262.18M259.38 185.51V191.11M257.38 186.31L261.38 190.31M261.38 186.31L257.38 190.31" stroke="#3040e0" stroke-width="0.75" fill="none"/>
<path d="M260.73 188.02H266.33M263.53 185.22V190.82M261.53 186.02L265.53 190.02M265.53 186.02L261.53 190.02" stroke="#3040e0" stroke-width="0.75" fill="none"/>
<path d="M264.88 187.73H270.48M267.68 184.93V190.53M265.68 185.73L269.68 189.73M269.68 185.73L265.68 189.73" stroke="#3040e0" stroke-width="0.75" fill="none"/>
<path d="M269.02 187.45H274.62M271.82 184.65V190.25M269.82 185.45L273.82 189.45M273.82 185.45L269.82 189.45" stroke="#3040e0" stroke-width="0.75" fill="none"/>
<path d="M273.17 187.16H278.77M275.97 184.36V189.96M273.97 185.16L277.97 189.16M277.97 185.16L273.97 189.16" stroke="#3040e0" stroke-width="0.75" fill="none"/>
<path d="M277.31 186.87H282.91M280.11 184.07V189.67M278.11 184.87L282.11 188.87M282.11 184.87L278.11 188.87" stroke="#3040e0" stroke-width="0.75" fill="none"/>
<path d="M281.46 186.58H287.06M284.26 183.78V189.38M282.26 184.58L286.26 188.58M286.26 184.58L282.26 188.58" stroke="#3040e0" stroke-width="0.75" fill="none"/>
<path d="M285.60 186.30H291.20M288.40 183.50V189.10M286.40 184.30L290.40 188.30M290.40 184.30L286.40 188.30" stroke="#3040e0" stroke-width="0.75" fill="none"/>
<path d="M289.75 186.01H295.35M292.55 183.21V188.81M290.55 184.01L294.55 188.01M294.55 184.01L290.55 188.01" stroke="#3040e0" stroke-width="0.75" fill="none"/>
<rect x="40.5" y="21.5" width="37" height="73" fill="white"/><path d="M40 21.5H79M40 94.5H79M40.5 21V96M78.5 21V96" stroke="#777" stroke-width="1" stroke-dasharray="1,1" fill="none"/>
<rect x="47.05" y="31.25" width="4.5" height="4.5" fill="#000000"/>
<text x="57.6" y="36.70" font-size="9" fill="#1a1a1a" font-family="Liberation Sans, sans-serif" stroke="#1a1a1a" stroke-width="0.25">1.9</text>
<circle cx="49.30" cy="44.00" r="2.4" fill="#cc0000"/>
<text x="57.6" y="47.20" font-size="9" fill="#1a1a1a" font-family="Liberation Sans, sans-serif" stroke="#1a1a1a" stroke-width="0.25">1</text>
<path d="M49.30 51.70L52.20 56.60L46.40 56.60Z" fill="#0000cc"/>
<text x="57.6" y="57.70" font-size="9" fill="#1a1a1a" font-family="Liberation Sans, sans-serif" stroke="#1a1a1a" stroke-width="0.25">0.55</text>
<path d="M47.00 62.70L51.60 67.30M51.60 62.70L47.00 67.30" stroke="#333333" stroke-width="0.75" fill="none"/>
<text x="57.6" y="68.20" font-size="9" fill="#1a1a1a" font-family="Liberation Sans, sans-serif" stroke="#1a1a1a" stroke-width="0.25">0.3</text>
<path d="M46.70 75.50H51.90M49.30 72.60V78.40" stroke="#e05a5a" stroke-width="0.8" fill="none"/>
<text x="57.6" y="78.70" font-size="9" fill="#1a1a1a" font-family="Liberation Sans, sans-serif" stroke="#1a1a1a" stroke-width="0.25">0.2</text>
<path d="M46.50 86.00H52.10M49.30 83.20V88.80M47.30 84.00L51.30 88.00M51.30 84.00L47.30 88.00" stroke="#3040e0" stroke-width="0.75" fill="none"/>
<text x="57.6" y="89.20" font-size="9" fill="#1a1a1a" font-family="Liberation Sans, sans-serif" stroke="#1a1a1a" stroke-width="0.25">0.08</text>
<rect x="350.8" y="15.5" width="265.49999999999994" height="205.5" fill="none" stroke="#686868" stroke-width="1.3"/>
<line x1="362.90" y1="221.0" x2="362.90" y2="223.0" stroke="#686868" stroke-width="1"/>
<line x1="375.02" y1="221.0" x2="375.02" y2="223.0" stroke="#686868" stroke-width="1"/>
<line x1="387.14" y1="221.0" x2="387.14" y2="223.0" stroke="#686868" stroke-width="1"/>
<line x1="399.26" y1="221.0" x2="399.26" y2="223.0" stroke="#686868" stroke-width="1"/>
<line x1="411.38" y1="221.0" x2="411.38" y2="223.0" stroke="#686868" stroke-width="1"/>
<line x1="423.50" y1="221.0" x2="423.50" y2="223.0" stroke="#686868" stroke-width="1"/>
<line x1="435.62" y1="221.0" x2="435.62" y2="223.0" stroke="#686868" stroke-width="1"/>
<line x1="447.74" y1="221.0" x2="447.74" y2="223.0" stroke="#686868" stroke-width="1"/>
<line x1="459.86" y1="221.0" x2="459.86" y2="223.0" stroke="#686868" stroke-width="1"/>
<line x1="471.98" y1="221.0" x2="471.98" y2="223.0" stroke="#686868" stroke-width="1"/>
<line x1="484.10" y1="221.0" x2="484.10" y2="223.0" stroke="#686868" stroke-width="1"/>
<line x1="496.22" y1="221.0" x2="496.22" y2="223.0" stroke="#686868" stroke-width="1"/>
<line x1="508.34" y1="221.0" x2="508.34" y2="223.0" stroke="#686868" stroke-width="1"/>
<line x1="520.46" y1="221.0" x2="520.46" y2="223.0" stroke="#686868" stroke-width="1"/>
<line x1="532.58" y1="221.0" x2="532.58" y2="223.0" stroke="#686868" stroke-width="1"/>
<line x1="544.70" y1="221.0" x2="544.70" y2="223.0" stroke="#686868" stroke-width="1"/>
<line x1="556.82" y1="221.0" x2="556.82" y2="223.0" stroke="#686868" stroke-width="1"/>
<line x1="568.94" y1="221.0" x2="568.94" y2="223.0" stroke="#686868" stroke-width="1"/>
<line x1="581.06" y1="221.0" x2="581.06" y2="223.0" stroke="#686868" stroke-width="1"/>
<line x1="593.18" y1="221.0" x2="593.18" y2="223.0" stroke="#686868" stroke-width="1"/>
<line x1="605.30" y1="221.0" x2="605.30" y2="223.0" stroke="#686868" stroke-width="1"/>
<text x="362.90" y="235.3" font-size="9.3" text-anchor="middle" fill="#1a1a1a" font-family="Liberation Sans, sans-serif" stroke="#1a1a1a" stroke-width="0.25">0.0</text>
<text x="423.50" y="235.3" font-size="9.3" text-anchor="middle" fill="#1a1a1a" font-family="Liberation Sans, sans-serif" stroke="#1a1a1a" stroke-width="0.25">0.5</text>
<text x="484.10" y="235.3" font-size="9.3" text-anchor="middle" fill="#1a1a1a" font-family="Liberation Sans, sans-serif" stroke="#1a1a1a" stroke-width="0.25">1.0</text>
<text x="544.70" y="235.3" font-size="9.3" text-anchor="middle" fill="#1a1a1a" font-family="Liberation Sans, sans-serif" stroke="#1a1a1a" stroke-width="0.25">1.5</text>
<text x="605.30" y="235.3" font-size="9.3" text-anchor="middle" fill="#1a1a1a" font-family="Liberation Sans, sans-serif" stroke="#1a1a1a" stroke-width="0.25">2.0</text>
<line x1="348.8" y1="211.70" x2="350.8" y2="211.70" stroke="#686868" stroke-width="1"/>
<line x1="348.8" y1="192.97" x2="350.8" y2="192.97" stroke="#686868" stroke-width="1"/>
<line x1="348.8" y1="174.25" x2="350.8" y2="174.25" stroke="#686868" stroke-width="1"/>
<line x1="348.8" y1="155.52" x2="350.8" y2="155.52" stroke="#686868" stroke-width="1"/>
<line x1="348.8" y1="136.80" x2="350.8" y2="136.80" stroke="#686868" stroke-width="1"/>
<line x1="348.8" y1="118.07" x2="350.8" y2="118.07" stroke="#686868" stroke-width="1"/>
<line x1="348.8" y1="99.35" x2="350.8" y2="99.35" stroke="#686868" stroke-width="1"/>
<line x1="348.8" y1="80.62" x2="350.8" y2="80.62" stroke="#686868" stroke-width="1"/>
<line x1="348.8" y1="61.90" x2="350.8" y2="61.90" stroke="#686868" stroke-width="1"/>
<line x1="348.8" y1="43.17" x2="350.8" y2="43.17" stroke="#686868" stroke-width="1"/>
<line x1="348.8" y1="24.45" x2="350.8" y2="24.45" stroke="#686868" stroke-width="1"/>
<text x="344.8" y="215.10" font-size="9.7" text-anchor="end" fill="#1a1a1a" font-family="Liberation Sans, sans-serif" stroke="#1a1a1a" stroke-width="0.25">0.0</text>
<text x="344.8" y="177.65" font-size="9.7" text-anchor="end" fill="#1a1a1a" font-family="Liberation Sans, sans-serif" stroke="#1a1a1a" stroke-width="0.25">0.5</text>
<text x="344.8" y="140.20" font-size="9.7" text-anchor="end" fill="#1a1a1a" font-family="Liberation Sans, sans-serif" stroke="#1a1a1a" stroke-width="0.25">1.0</text>
<text x="344.8" y="102.75" font-size="9.7" text-anchor="end" fill="#1a1a1a" font-family="Liberation Sans, sans-serif" stroke="#1a1a1a" stroke-width="0.25">1.5</text>
<text x="344.8" y="65.30" font-size="9.7" text-anchor="end" fill="#1a1a1a" font-family="Liberation Sans, sans-serif" stroke="#1a1a1a" stroke-width="0.25">2.0</text>
<text x="344.8" y="27.85" font-size="9.7" text-anchor="end" fill="#1a1a1a" font-family="Liberation Sans, sans-serif" stroke="#1a1a1a" stroke-width="0.25">2.5</text>
<text x="312.2" y="9.1" font-size="12" fill="#1a1a1a" font-family="Liberation Sans, sans-serif" stroke="#111" stroke-width="0.4">b</text>
<text x="350.8" y="10.2" font-size="8" fill="#1a1a1a" font-family="Liberation Sans, sans-serif">x10<tspan font-size="5.6" dy="-3.3" dx="0.5">20</tspan></text>
<text x="484" y="250.7" font-size="10" text-anchor="middle" fill="#1a1a1a" font-family="Liberation Sans, sans-serif" stroke="#1a1a1a" stroke-width="0.25">Power (W)</text>
<text transform="translate(323.3,159.0) rotate(-90)" font-size="9.5" fill="#1a1a1a" font-family="Liberation Sans, sans-serif" stroke="#1a1a1a" stroke-width="0.25">H<tspan font-size="7" dy="1.8">2</tspan><tspan dy="-1.8">O</tspan><tspan font-size="7" dy="1.8">2</tspan><tspan dy="-1.8" letter-spacing="0.3"> flux (m</tspan><tspan font-size="7.5" dy="-4.2" letter-spacing="0.3">-2</tspan><tspan dy="4.2" letter-spacing="0.3"> s</tspan><tspan font-size="7.5" dy="-4.2" letter-spacing="0.3">-1</tspan><tspan dy="4.2">)</tspan></text>
<text x="605.3" y="29.6" font-size="6.6" text-anchor="end" fill="#1a1a1a" font-family="Liberation Sans, sans-serif">H<tspan font-size="4.8" dy="1.5">2</tspan><tspan dy="-1.5">O ppmV = 600</tspan></text>
<text x="605.3" y="38.5" font-size="6.6" text-anchor="end" fill="#1a1a1a" font-family="Liberation Sans, sans-serif">Z = 50 mm</text>
<rect x="360.90" y="209.70" width="4" height="4" fill="#000"/>
<path d="M372.60 184.11V188.51M369.60 184.11H375.60M369.60 188.51H375.60" stroke="#222" stroke-width="0.65" fill="none"/>
<rect x="370.60" y="184.31" width="4" height="4" fill="#000"/>
<path d="M387.14 163.79V167.79M384.14 163.79H390.14M384.14 167.79H390.14" stroke="#222" stroke-width="0.65" fill="none"/>
<rect x="385.14" y="163.79" width="4" height="4" fill="#000"/>
<path d="M399.26 134.70V140.70M396.26 134.70H402.26M396.26 140.70H402.26" stroke="#222" stroke-width="0.65" fill="none"/>
<rect x="397.26" y="135.70" width="4" height="4" fill="#000"/>
<path d="M429.56 94.38V99.38M426.56 94.38H432.56M426.56 99.38H432.56" stroke="#222" stroke-width="0.65" fill="none"/>
<rect x="427.56" y="94.88" width="4" height="4" fill="#000"/>
<path d="M484.10 80.32V84.52M481.10 80.32H487.10M481.10 84.52H487.10" stroke="#222" stroke-width="0.65" fill="none"/>
<rect x="482.10" y="80.42" width="4" height="4" fill="#000"/>
<path d="M544.70 62.57V69.17M541.70 62.57H547.70M541.70 69.17H547.70" stroke="#222" stroke-width="0.65" fill="none"/>
<rect x="542.70" y="63.87" width="4" height="4" fill="#000"/>
<path d="M593.18 65.57V67.97M590.18 65.57H596.18M590.18 67.97H596.18" stroke="#222" stroke-width="0.65" fill="none"/>
<rect x="591.18" y="64.77" width="4" height="4" fill="#000"/>
</svg>
</body></html>
